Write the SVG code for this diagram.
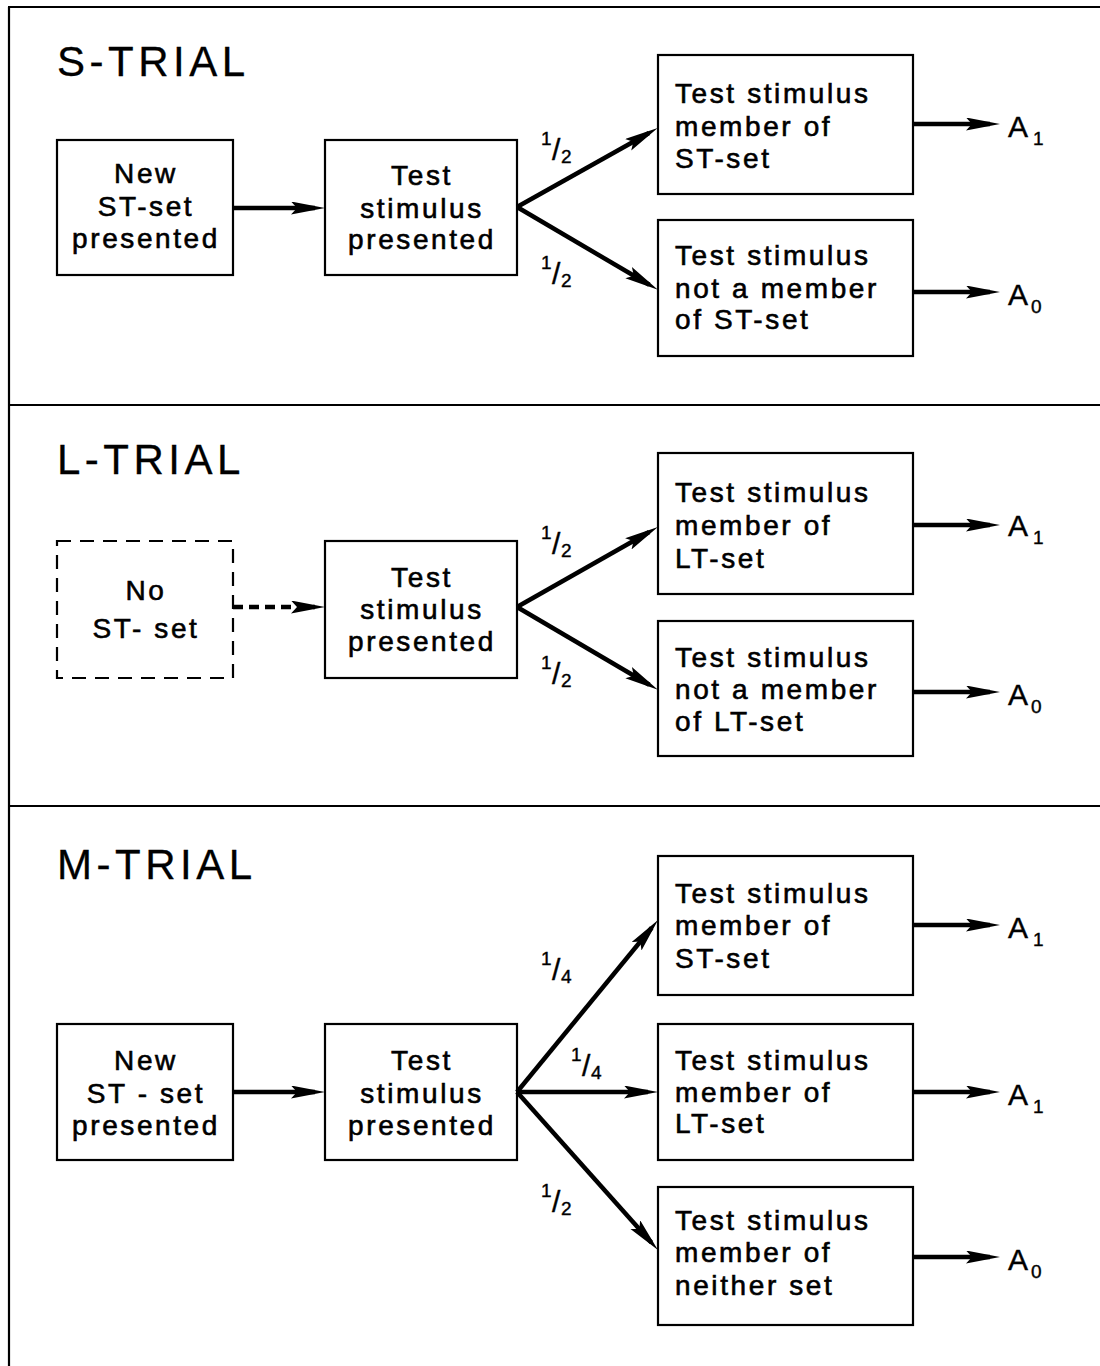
<svg xmlns="http://www.w3.org/2000/svg" width="1100" height="1366" viewBox="0 0 1100 1366">
<style>
  .frame { stroke:#000; stroke-width:2.2; fill:none; }
  .box { fill:#fff; stroke:#000; stroke-width:2.2; }
  .dbox { fill:#fff; stroke:#000; stroke-width:2.2; stroke-dasharray:14 9; }
  .t { font-family:"Liberation Sans", Arial, sans-serif; font-size:28px; letter-spacing:2.6px; fill:#000; stroke:#000; stroke-width:0.6; }
  .c { text-anchor:middle; }
  .title { font-family:"Liberation Sans", Arial, sans-serif; font-size:42px; letter-spacing:4.5px; fill:#000; stroke:#000; stroke-width:0.3; }
  .lbl { font-family:"Liberation Sans", Arial, sans-serif; font-size:30px; fill:#000; stroke:#000; stroke-width:0.4; }
  .sub { font-size:19px; }
  .arr { stroke:#000; stroke-width:4.5; fill:none; marker-end:url(#ah); }
  .darr { stroke:#000; stroke-width:4.5; fill:none; stroke-dasharray:10 6; marker-end:url(#ah); }
</style>
<defs>
  <marker id="ah" markerUnits="userSpaceOnUse" markerWidth="36" markerHeight="14" refX="24" refY="6.5" orient="auto">
    <path d="M0,0 L34,6.5 L0,13 L6,6.5 Z" fill="#000"/>
  </marker>
</defs>

<rect x="0" y="0" width="1100" height="1366" fill="#fff"/>

<g id="frame">
  <line class="frame" x1="8" y1="7" x2="1100" y2="7"/>
  <line class="frame" x1="9" y1="7" x2="9" y2="1366"/>
  <line class="frame" x1="9" y1="405" x2="1100" y2="405"/>
  <line class="frame" x1="9" y1="806" x2="1100" y2="806"/>
</g>

<g id="titles">
  <text class="title" x="57" y="76">S-TRIAL</text>
  <text class="title" x="57" y="474">L-TRIAL</text>
  <text class="title" x="57" y="879">M-TRIAL</text>
</g>

<!-- S-TRIAL -->
<g id="s-new">
  <rect class="box" x="57" y="140" width="176" height="135"/>
  <text class="t c" x="146" y="183">New</text>
  <text class="t c" x="146" y="216">ST-set</text>
  <text class="t c" x="146" y="248">presented</text>
</g>
<g id="s-test">
  <rect class="box" x="325" y="140" width="192" height="135"/>
  <text class="t c" x="422" y="185">Test</text>
  <text class="t c" x="422" y="218">stimulus</text>
  <text class="t c" x="422" y="249">presented</text>
</g>
<g id="s-member">
  <rect class="box" x="658" y="55" width="255" height="139"/>
  <text class="t" x="675" y="103">Test stimulus</text>
  <text class="t" x="675" y="136">member of</text>
  <text class="t" x="675" y="168">ST-set</text>
</g>
<g id="s-notmember">
  <rect class="box" x="658" y="220" width="255" height="136"/>
  <text class="t" x="675" y="265">Test stimulus</text>
  <text class="t" x="675" y="298">not a member</text>
  <text class="t" x="675" y="329">of ST-set</text>
</g>
<g id="s-a1"><text class="lbl" x="1008" y="137">A<tspan class="sub" dx="5" dy="8">1</tspan></text></g>
<g id="s-a0"><text class="lbl" x="1008" y="305">A<tspan class="sub" dx="3" dy="8">0</tspan></text></g>

<!-- L-TRIAL -->
<g id="l-nost">
  <rect class="dbox" x="57" y="541" width="176" height="137"/>
  <text class="t c" x="146" y="600">No</text>
  <text class="t c" x="146" y="638">ST- set</text>
</g>
<g id="l-test">
  <rect class="box" x="325" y="541" width="192" height="137"/>
  <text class="t c" x="422" y="587">Test</text>
  <text class="t c" x="422" y="619">stimulus</text>
  <text class="t c" x="422" y="651">presented</text>
</g>
<g id="l-member">
  <rect class="box" x="658" y="453" width="255" height="141"/>
  <text class="t" x="675" y="502">Test stimulus</text>
  <text class="t" x="675" y="535">member of</text>
  <text class="t" x="675" y="568">LT-set</text>
</g>
<g id="l-notmember">
  <rect class="box" x="658" y="621" width="255" height="135"/>
  <text class="t" x="675" y="667">Test stimulus</text>
  <text class="t" x="675" y="699">not a member</text>
  <text class="t" x="675" y="731">of LT-set</text>
</g>
<g id="l-a1"><text class="lbl" x="1008" y="536">A<tspan class="sub" dx="5" dy="8">1</tspan></text></g>
<g id="l-a0"><text class="lbl" x="1008" y="705">A<tspan class="sub" dx="3" dy="8">0</tspan></text></g>

<!-- M-TRIAL -->
<g id="m-new">
  <rect class="box" x="57" y="1024" width="176" height="136"/>
  <text class="t c" x="146" y="1070">New</text>
  <text class="t c" x="146" y="1103">ST - set</text>
  <text class="t c" x="146" y="1135">presented</text>
</g>
<g id="m-test">
  <rect class="box" x="325" y="1024" width="192" height="136"/>
  <text class="t c" x="422" y="1070">Test</text>
  <text class="t c" x="422" y="1103">stimulus</text>
  <text class="t c" x="422" y="1135">presented</text>
</g>
<g id="m-st">
  <rect class="box" x="658" y="856" width="255" height="139"/>
  <text class="t" x="675" y="903">Test stimulus</text>
  <text class="t" x="675" y="935">member of</text>
  <text class="t" x="675" y="968">ST-set</text>
</g>
<g id="m-lt">
  <rect class="box" x="658" y="1024" width="255" height="136"/>
  <text class="t" x="675" y="1070">Test stimulus</text>
  <text class="t" x="675" y="1102">member of</text>
  <text class="t" x="675" y="1133">LT-set</text>
</g>
<g id="m-neither">
  <rect class="box" x="658" y="1187" width="255" height="138"/>
  <text class="t" x="675" y="1230">Test stimulus</text>
  <text class="t" x="675" y="1262">member of</text>
  <text class="t" x="675" y="1295">neither set</text>
</g>
<g id="m-a1a"><text class="lbl" x="1008" y="938">A<tspan class="sub" dx="5" dy="8">1</tspan></text></g>
<g id="m-a1b"><text class="lbl" x="1008" y="1105">A<tspan class="sub" dx="5" dy="8">1</tspan></text></g>
<g id="m-a0"><text class="lbl" x="1008" y="1270">A<tspan class="sub" dx="3" dy="8">0</tspan></text></g>

<g id="connectors">
  <!-- S -->
  <line class="arr" x1="233" y1="208" x2="315" y2="208"/>
  <line class="arr" x1="517" y1="207" x2="649" y2="133"/>
  <line class="arr" x1="517" y1="207" x2="649.3" y2="284.8"/>
  <line class="arr" x1="913" y1="124" x2="990" y2="124"/>
  <line class="arr" x1="913" y1="292" x2="990" y2="292"/>
  <!-- L -->
  <line class="darr" x1="233" y1="607" x2="315" y2="607"/>
  <line class="arr" x1="517" y1="607" x2="649.2" y2="532"/>
  <line class="arr" x1="517" y1="607" x2="649.3" y2="684.8"/>
  <line class="arr" x1="913" y1="525" x2="990" y2="525"/>
  <line class="arr" x1="913" y1="692" x2="990" y2="692"/>
  <!-- M -->
  <line class="arr" x1="233" y1="1092" x2="315" y2="1092"/>
  <line class="arr" x1="517" y1="1092" x2="651.7" y2="927.7"/>
  <line class="arr" x1="517" y1="1092" x2="648" y2="1092"/>
  <line class="arr" x1="517" y1="1092" x2="651.3" y2="1242.5"/>
  <line class="arr" x1="913" y1="925" x2="990" y2="925"/>
  <line class="arr" x1="913" y1="1092" x2="990" y2="1092"/>
  <line class="arr" x1="913" y1="1257" x2="990" y2="1257"/>
</g>

<g id="probabilities">
  <text class="lbl"><tspan class="sub" x="541" y="145">1</tspan><tspan x="552" y="160">/</tspan><tspan class="sub" x="561" y="163">2</tspan></text>
  <text class="lbl"><tspan class="sub" x="541" y="269">1</tspan><tspan x="552" y="284">/</tspan><tspan class="sub" x="561" y="287">2</tspan></text>
  <text class="lbl"><tspan class="sub" x="541" y="539">1</tspan><tspan x="552" y="554">/</tspan><tspan class="sub" x="561" y="557">2</tspan></text>
  <text class="lbl"><tspan class="sub" x="541" y="669">1</tspan><tspan x="552" y="684">/</tspan><tspan class="sub" x="561" y="687">2</tspan></text>
  <text class="lbl"><tspan class="sub" x="541" y="965">1</tspan><tspan x="552" y="980">/</tspan><tspan class="sub" x="561" y="983">4</tspan></text>
  <text class="lbl"><tspan class="sub" x="571" y="1061">1</tspan><tspan x="582" y="1076">/</tspan><tspan class="sub" x="591" y="1079">4</tspan></text>
  <text class="lbl"><tspan class="sub" x="541" y="1197">1</tspan><tspan x="552" y="1212">/</tspan><tspan class="sub" x="561" y="1215">2</tspan></text>
</g>
</svg>
